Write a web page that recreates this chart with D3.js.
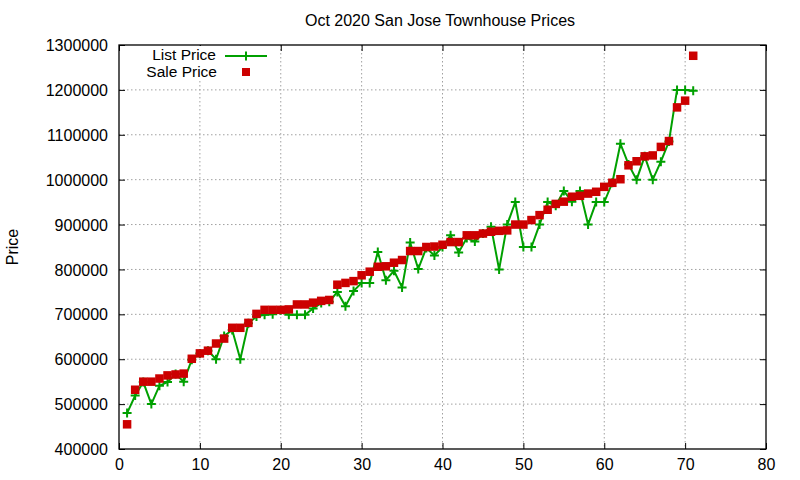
<!DOCTYPE html>
<html>
<head>
<meta charset="utf-8">
<script src="https://cdn.jsdelivr.net/npm/d3@7"></script>
<style>
  html, body { margin: 0; padding: 0; background: #fff; }
  svg { display: block; font-family: "Liberation Sans", Arial, sans-serif; }
</style>
</head>
<body>
<svg id="chart" width="800" height="480"></svg>
<script>
const title = "Oct 2020 San Jose Townhouse Prices";
const yLabel = "Price";
const seriesNames = ["List Price", "Sale Price"];
const xTicks = [0, 10, 20, 30, 40, 50, 60, 70, 80];
const yTicks = [400000, 500000, 600000, 700000, 800000, 900000, 1000000, 1100000, 1200000, 1300000];

const listPrice = [
  480000, 519000, 549000, 500000, 541000, 549000, 567000, 550000, 599000, 613000,
  619000, 600000, 652000, 665000, 600000, 680000, 695000, 699000, 700000, 709000,
  699000, 699000, 699000, 713000, 725000, 728000, 750000, 718000, 752000, 770000,
  770000, 839000, 776000, 797000, 760000, 860000, 801000, 848000, 831000, 850000,
  876000, 838000, 870000, 862000, 880000, 895000, 800000, 900000, 950000, 850000,
  850000, 900000, 950000, 942000, 975000, 951000, 975000, 900000, 950000, 950000,
  993000, 1080000, 1034000, 1000000, 1052000, 1000000, 1040000, 1085000, 1200000, 1200000,
  1198000
];
const salePrice = [
  455000, 532000, 550000, 550000, 557000, 564000, 566000, 568000, 601000, 613000,
  619000, 635000, 646000, 670000, 670000, 681000, 701000, 710000, 710000, 710000,
  711000, 722000, 722000, 726000, 730000, 732000, 766000, 770000, 774000, 787000,
  795000, 806000, 807000, 815000, 821000, 841000, 841000, 850000, 851000, 855000,
  861000, 861000, 876000, 876000, 880000, 884000, 886000, 887000, 900000, 900000,
  910000, 921000, 933000, 946000, 951000, 962000, 964000, 969000, 973000, 984000,
  993000, 1001000, 1032000, 1041000, 1052000, 1054000, 1073000, 1086000, 1161000, 1176000,
  1276000
];

const GREEN = "#00a000", RED = "#cc0000";
const svg = d3.select("#chart");
const L = 119, R = 766, T = 45, B = 449;

const x = d3.scaleLinear().domain([0, 80]).range([L, R]);
const y = d3.scaleLinear().domain([400000, 1300000]).range([B, T]);

// grid
const grid = svg.append("g").attr("stroke", "#a0a0a0").attr("stroke-width", 1)
  .attr("stroke-dasharray", "1.5,2.5").attr("fill", "none");
xTicks.slice(1, -1).forEach(t => grid.append("line")
  .attr("x1", x(t)).attr("x2", x(t)).attr("y1", T).attr("y2", B));
yTicks.slice(1, -1).forEach(t => grid.append("line")
  .attr("x1", L).attr("x2", R).attr("y1", y(t)).attr("y2", y(t)));

// axes
const tickLen = 6;
const fmt = d3.format("d");
const axB = svg.append("g").attr("transform", `translate(0,${B})`)
  .call(d3.axisBottom(x).tickValues(xTicks).tickFormat(fmt).tickSizeInner(-tickLen).tickSizeOuter(0).tickPadding(10));
const axT = svg.append("g").attr("transform", `translate(0,${T})`)
  .call(d3.axisTop(x).tickValues(xTicks).tickFormat("").tickSizeInner(-tickLen).tickSizeOuter(0));
const axL = svg.append("g").attr("transform", `translate(${L},0)`)
  .call(d3.axisLeft(y).tickValues(yTicks).tickFormat(fmt).tickSizeInner(-tickLen).tickSizeOuter(0).tickPadding(11));
const axR = svg.append("g").attr("transform", `translate(${R},0)`)
  .call(d3.axisRight(y).tickValues(yTicks).tickFormat("").tickSizeInner(-tickLen).tickSizeOuter(0));
[axB, axT, axL, axR].forEach(a => {
  a.select(".domain").remove();
  a.selectAll("line").attr("stroke", "#000").attr("stroke-width", 1);
  a.selectAll("text").attr("font-family", "Liberation Sans, Arial, sans-serif")
    .attr("font-size", 16).attr("fill", "#000");
});
axB.selectAll("text").attr("dy", "0.71em");
axL.selectAll("text").attr("dy", "0.35em");

// border
svg.append("rect").attr("x", L).attr("y", T).attr("width", R - L).attr("height", B - T)
  .attr("fill", "none").attr("stroke", "#000").attr("stroke-width", 1.3);

// list price line
const listData = listPrice.map((v, i) => [i + 1, v]);
const saleData = salePrice.map((v, i) => [i + 1, v]);
svg.append("path").datum(listData)
  .attr("fill", "none").attr("stroke", GREEN).attr("stroke-width", 2)
  .attr("d", d3.line().x(d => x(d[0])).y(d => y(d[1])));
const plus = (g, cx, cy) => g.append("path")
  .attr("d", `M${cx - 4.5},${cy}H${cx + 4.5}M${cx},${cy - 4.5}V${cy + 4.5}`)
  .attr("stroke", GREEN).attr("stroke-width", 2).attr("fill", "none");
const pg = svg.append("g");
listData.forEach(d => plus(pg, x(d[0]), y(d[1])));

// sale squares
const S = 8.5;
svg.append("g").selectAll("rect").data(saleData).join("rect")
  .attr("x", d => x(d[0]) - S / 2).attr("y", d => y(d[1]) - S / 2)
  .attr("width", S).attr("height", S).attr("fill", RED);

// legend (opaque)
svg.append("rect").attr("x", 142).attr("y", 46).attr("width", 130).attr("height", 34).attr("fill", "#fff");
svg.append("text").attr("x", 216).attr("y", 60).attr("text-anchor", "end")
  .attr("font-size", 15.5).text(seriesNames[0]);
svg.append("line").attr("x1", 225).attr("x2", 267).attr("y1", 56).attr("y2", 56)
  .attr("stroke", GREEN).attr("stroke-width", 2);
plus(svg, 246, 56);
svg.append("text").attr("x", 217).attr("y", 77).attr("text-anchor", "end")
  .attr("font-size", 15.5).text(seriesNames[1]);
svg.append("rect").attr("x", 246 - 4).attr("y", 72 - 4).attr("width", 8).attr("height", 8).attr("fill", RED);

// title
svg.append("text").attr("x", 440).attr("y", 26).attr("text-anchor", "middle")
  .attr("font-size", 16).text(title);
// y label
svg.append("text").attr("transform", "translate(18,247) rotate(-90)")
  .attr("text-anchor", "middle").attr("font-size", 16).text(yLabel);
</script>
</body>
</html>
